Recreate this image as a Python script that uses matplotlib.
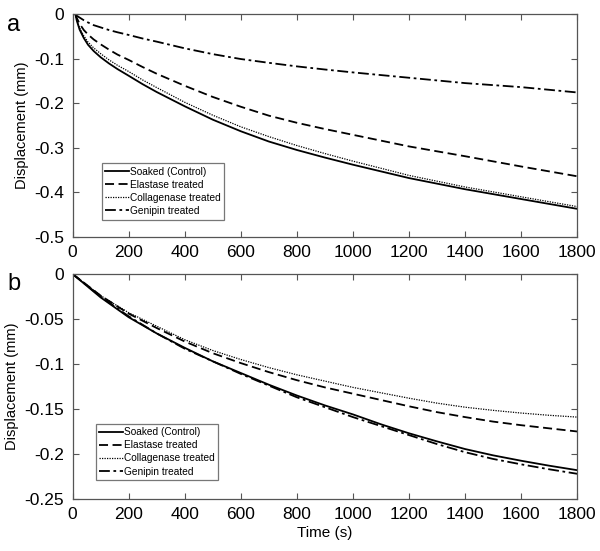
import matplotlib
matplotlib.use("Agg")
import matplotlib.pyplot as plt

plt.rcParams['font.family'] = ['Liberation Sans', 'DejaVu Sans']

# panel a
t_a = [10, 15, 25, 40, 55, 75, 100, 130, 160, 200, 250, 300, 400, 500, 600, 700, 800, 900, 1000,
       1200, 1400, 1600, 1800]
control_a = [0, -0.015, -0.035, -0.054, -0.069, -0.083, -0.097, -0.111, -0.1235, -0.1385, -0.1575,
             -0.175, -0.207, -0.237, -0.263, -0.286, -0.305, -0.322, -0.338, -0.368, -0.393, -0.415,
             -0.437]
elastase_a = [0, -0.009, -0.022, -0.036, -0.046, -0.057, -0.068, -0.080, -0.091, -0.103, -0.119,
              -0.134, -0.161, -0.186, -0.208, -0.228, -0.244, -0.258, -0.271, -0.297, -0.319,
              -0.342, -0.364]
collagenase_a = [0, -0.013, -0.031, -0.049, -0.063, -0.076, -0.089, -0.103, -0.115, -0.129, -0.148,
                 -0.165, -0.198, -0.227, -0.253, -0.275, -0.295, -0.313, -0.330, -0.362, -0.388,
                 -0.410, -0.432]
genipin_a = [0, -0.004, -0.008, -0.014, -0.019, -0.025, -0.030, -0.036, -0.041, -0.047, -0.055,
             -0.062, -0.077, -0.090, -0.101, -0.1095, -0.1175, -0.1245, -0.131, -0.143, -0.155,
             -0.164, -0.176]

# panel b
t_b = [0, 100, 200, 300, 400, 500, 600, 700, 800, 900, 1000, 1100, 1200, 1300, 1400, 1500, 1600,
       1700, 1800]
control_b = [0, -0.026, -0.048, -0.066, -0.082, -0.097, -0.110, -0.123, -0.135, -0.146, -0.156,
             -0.167, -0.177, -0.186, -0.1945, -0.2015, -0.2075, -0.213, -0.218]
elastase_b = [0, -0.024, -0.044, -0.060, -0.075, -0.088, -0.099, -0.109, -0.118, -0.126, -0.133,
              -0.140, -0.147, -0.1535, -0.159, -0.164, -0.168, -0.1715, -0.175]
collagenase_b = [0, -0.024, -0.043, -0.058, -0.073, -0.085, -0.095, -0.104, -0.112, -0.119, -0.126,
                 -0.132, -0.138, -0.1435, -0.148, -0.1515, -0.1545, -0.157, -0.159]
genipin_b = [0, -0.025, -0.047, -0.066, -0.083, -0.097, -0.111, -0.124, -0.137, -0.148, -0.159,
             -0.169, -0.179, -0.189, -0.198, -0.2055, -0.2115, -0.217, -0.222]

labels = ["Soaked (Control)", "Elastase treated", "Collagenase treated", "Genipin treated"]
styles = [dict(ls="-", lw=1.3), dict(ls=(0, (5, 2.5)), lw=1.3),
          dict(ls=(0, (1, 1)), lw=0.9), dict(ls=(0, (6, 2, 1.5, 2)), lw=1.3)]
xticks = list(range(0, 2000, 200))

fig = plt.figure(figsize=(6, 5.51), dpi=100)
ax_a = fig.add_axes([0.121, 0.570, 0.841, 0.4046])
ax_b = fig.add_axes([0.121, 0.0944, 0.841, 0.4083])


def style_axis(ax, yticks, ylabels, legend_anchor):
    ax.set_xlim(0, 1800)
    ax.set_xticks(xticks)
    ax.set_yticks(yticks)
    ax.set_yticklabels(ylabels)
    ax.set_ylim(yticks[0], yticks[-1])
    ax.tick_params(direction="in", length=4, width=0.8, top=True, right=True,
                   labelsize=12.5, color="#555555", pad=6)
    for s in ax.spines.values():
        s.set_color("#555555")
        s.set_linewidth(0.9)
    ax.set_ylabel("Displacement (mm)", fontsize=10.5, labelpad=4)
    leg = ax.legend(loc="upper left", bbox_to_anchor=legend_anchor, fontsize=7.3,
                    frameon=True, fancybox=False, handlelength=2.3, handletextpad=0.1,
                    borderpad=0.35, labelspacing=0.3, borderaxespad=0)
    leg.get_frame().set_edgecolor("#555555")
    leg.get_frame().set_linewidth(0.9)


for y, lab, st in zip([control_a, elastase_a, collagenase_a, genipin_a], labels, styles):
    ax_a.plot(t_a, y, color="black", label=lab, **st)
for y, lab, st in zip([control_b, elastase_b, collagenase_b, genipin_b], labels, styles):
    ax_b.plot(t_b, y, color="black", label=lab, **st)

style_axis(ax_a, [-0.5, -0.4, -0.3, -0.2, -0.1, 0], ["-0.5", "-0.4", "-0.3", "-0.2", "-0.1", "0"],
           (0.058, 0.330))
style_axis(ax_b, [-0.25, -0.2, -0.15, -0.1, -0.05, 0],
           ["-0.25", "-0.2", "-0.15", "-0.1", "-0.05", "0"], (0.046, 0.334))
ax_b.set_xlabel("Time (s)", fontsize=11, labelpad=3)

fig.text(0.012, 0.975, "a", fontsize=17, va="top")
fig.text(0.012, 0.505, "b", fontsize=17, va="top")

fig.savefig("out.png", dpi=100)
